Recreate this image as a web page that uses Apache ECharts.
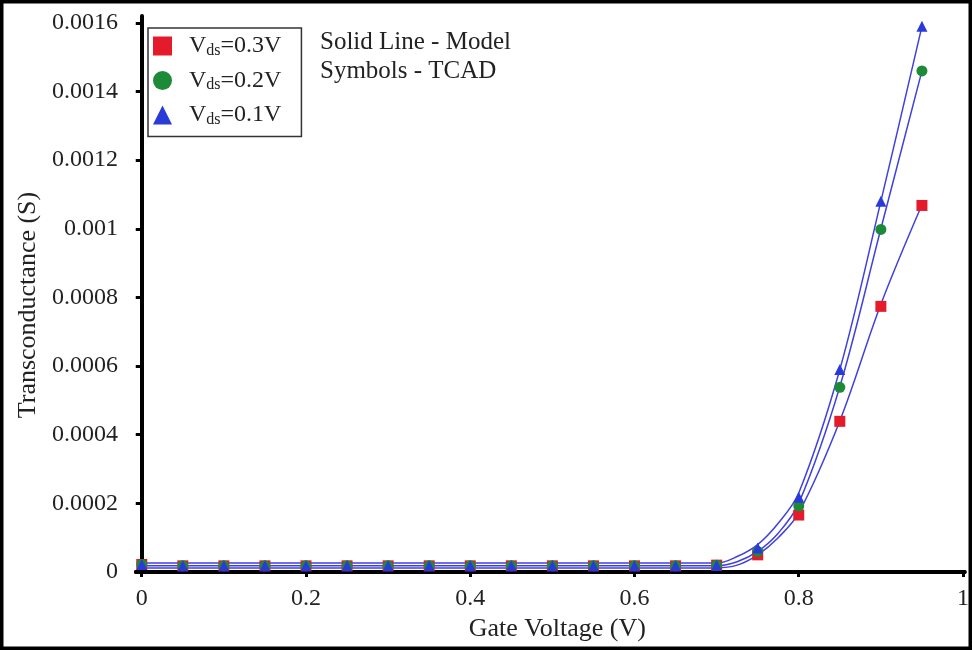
<!DOCTYPE html>
<html>
<head>
<meta charset="utf-8">
<script src="https://cdn.jsdelivr.net/npm/echarts@6/dist/echarts.min.js"></script>
<style>
  html, body { margin: 0; padding: 0; background: #fff; }
  #chart { width: 972px; height: 650px; }
</style>
</head>
<body>
<div id="chart"></div>
<script>
// TCAD symbols, sampled every 0.05 V
var gateVoltage = [0, 0.05, 0.1, 0.15, 0.2, 0.25, 0.3, 0.35, 0.4, 0.45, 0.5,
  0.55, 0.6, 0.65, 0.7, 0.75, 0.8, 0.85, 0.9, 0.95];
var tcadVds03 = [0.000022, 0.000018, 0.000018, 0.000018, 0.000018, 0.000018, 0.000018,
  0.000018, 0.000018, 0.000018, 0.000018, 0.000018, 0.000018, 0.000018, 0.00002,
  0.00005, 0.000166, 0.000439, 0.000774, 0.001068];
var tcadVds02 = [0.000022, 0.000018, 0.000018, 0.000018, 0.000018, 0.000018, 0.000018,
  0.000018, 0.000018, 0.000018, 0.000018, 0.000018, 0.000018, 0.000018, 0.00002,
  0.00006, 0.000192, 0.000538, 0.000998, 0.00146];
var tcadVds01 = [0.000022, 0.000018, 0.000018, 0.000018, 0.000018, 0.000018, 0.000018,
  0.000018, 0.000018, 0.000018, 0.000018, 0.000018, 0.000018, 0.000018, 0.00002,
  0.00007, 0.000218, 0.00059, 0.00108, 0.00159];

// model curves (solid lines)
var modelVoltage = [0, 0.1, 0.2, 0.3, 0.4, 0.5, 0.6, 0.7, 0.725, 0.75, 0.775, 0.8, 0.85, 0.9, 0.95];
var modelVds03 = [0.000012, 0.000012, 0.000012, 0.000012, 0.000012, 0.000012, 0.000012,
  0.000012, 0.00002, 0.00005, 0.0001, 0.000172, 0.00044, 0.00078, 0.00107];
var modelVds02 = [0.000018, 0.000018, 0.000018, 0.000018, 0.000018, 0.000018, 0.000018,
  0.000018, 0.00003, 0.00006, 0.000113, 0.0002, 0.00054, 0.001, 0.00146];
var modelVds01 = [0.000026, 0.000026, 0.000026, 0.000026, 0.000026, 0.000026, 0.000026,
  0.000026, 0.000045, 0.00008, 0.000142, 0.00023, 0.00059, 0.00108, 0.00159];

var xTicks = [0, 0.2, 0.4, 0.6, 0.8, 1];
var yTicks = [0, 0.0002, 0.0004, 0.0006, 0.0008, 0.001, 0.0012, 0.0014, 0.0016];

var legendNames = ["Vds=0.3V", "Vds=0.2V", "Vds=0.1V"];
var legendLabels = ["=0.3V", "=0.2V", "=0.1V"];

var serif = "'Liberation Serif', 'DejaVu Serif', serif";
var lineColor = "#4040e0";

function pairs(xs, ys) {
  return xs.map(function (x, i) { return [x, ys[i]]; });
}

var chart = echarts.init(document.getElementById("chart"));

function modelSeries(name, values) {
  return {
    name: name,
    type: "line",
    data: pairs(modelVoltage, values),
    showSymbol: false,
    smooth: 0.35,
    lineStyle: { color: lineColor, width: 1.5 },
    z: 2,
    silent: true
  };
}

function tcadSeries(name, values, symbol, size, color) {
  return {
    name: name,
    type: "scatter",
    data: pairs(gateVoltage, values),
    symbol: symbol,
    symbolSize: size,
    itemStyle: { color: color, opacity: 1 },
    z: 3
  };
}

var option = {
  backgroundColor: "#fff",
  animation: false,
  grid: { left: 136, right: 4, top: 16, bottom: 78 },
  xAxis: [{
    type: "value",
    min: -0.007,
    max: 1.002,
    name: "Gate Voltage (V)",
    nameLocation: "middle",
    nameGap: 43,
    nameTextStyle: { fontFamily: serif, fontSize: 26, color: "#222", padding: [0, 0, 0, 14] },
    axisLine: { lineStyle: { color: "#000", width: 4 } },
    axisTick: { show: true, length: 5, lineStyle: { color: "#000", width: 3 }, customValues: xTicks },
    axisLabel: {
      fontFamily: serif, fontSize: 24, color: "#222", margin: 15,
      customValues: xTicks,
      formatter: function (v) { return String(+v.toFixed(1)); }
    },
    splitLine: { show: false }
  }, {
    type: "value",
    position: "top",
    min: -0.007,
    max: 1.002,
    axisLine: { show: true, lineStyle: { color: "#000", width: 4 } },
    axisTick: { show: false },
    axisLabel: { show: false },
    splitLine: { show: false }
  }],
  yAxis: [{
    type: "value",
    min: 0,
    max: 0.00162,
    name: "Transconductance (S)",
    nameLocation: "middle",
    nameGap: 88,
    nameTextStyle: { fontFamily: serif, fontSize: 26, color: "#222", padding: [0, 22, 0, 0] },
    axisLine: { show: true, lineStyle: { color: "#000", width: 4 } },
    axisTick: { show: true, length: 6, lineStyle: { color: "#000", width: 3 }, customValues: yTicks },
    axisLabel: {
      fontFamily: serif, fontSize: 24, color: "#222", margin: 18,
      customValues: yTicks,
      formatter: function (v) { return String(+v.toFixed(4)); }
    },
    splitLine: { show: false }
  }, {
    type: "value",
    position: "right",
    min: 0,
    max: 0.00162,
    axisLine: { show: true, lineStyle: { color: "#000", width: 2 } },
    axisTick: { show: false },
    axisLabel: { show: false },
    splitLine: { show: false }
  }],
  legend: {
    orient: "vertical",
    left: 148,
    top: 28,
    padding: [6, 20, 9, 5],
    itemWidth: 19,
    itemHeight: 19,
    itemGap: 10,
    borderColor: "#333",
    borderWidth: 1.5,
    backgroundColor: "#fff",
    selectedMode: false,
    data: [
      { name: legendNames[0], icon: "rect" },
      { name: legendNames[1], icon: "circle" },
      { name: legendNames[2], icon: "triangle" }
    ],
    formatter: function (name) {
      return "{g|}{v|V}{s|ds}{v|" + legendLabels[legendNames.indexOf(name)] + "}";
    },
    textStyle: {
      color: "#222",
      rich: {
        g: { width: 12 },
        v: { fontFamily: serif, fontSize: 24, color: "#222", lineHeight: 24 },
        s: { fontFamily: serif, fontSize: 16, color: "#222", padding: [9, 0, 0, 0] }
      }
    }
  },
  graphic: [
    {
      type: "text", left: 320, top: 30, silent: true,
      style: { text: "Solid Line - Model", font: "25px " + serif, fill: "#222" }
    },
    {
      type: "text", left: 320, top: 59, silent: true,
      style: { text: "Symbols - TCAD", font: "25px " + serif, fill: "#222" }
    },
    {
      type: "rect", silent: true, z: 100,
      shape: { x: 1.5, y: 1.5, width: 969, height: 647 },
      style: { fill: null, stroke: "#000", lineWidth: 4 }
    }
  ],
  series: [
    modelSeries("Model 0.3V", modelVds03),
    modelSeries("Model 0.2V", modelVds02),
    modelSeries("Model 0.1V", modelVds01),
    tcadSeries(legendNames[0], tcadVds03, "rect", 11, "#e31b2b"),
    tcadSeries(legendNames[1], tcadVds02, "circle", 11, "#1d8a38"),
    tcadSeries(legendNames[2], tcadVds01, "triangle", 11, "#2a3ad8")
  ]
};

chart.setOption(option);
</script>
</body>
</html>
